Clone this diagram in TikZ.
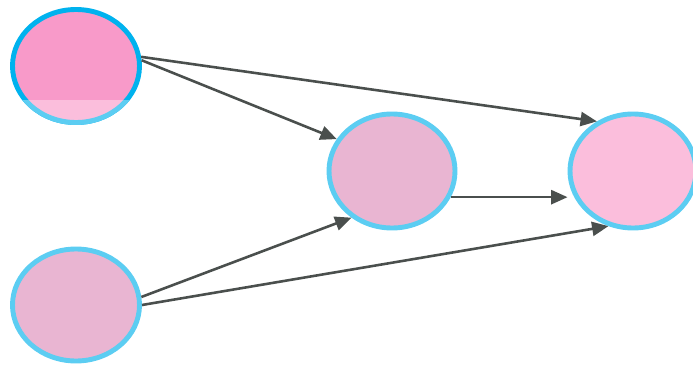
\documentclass[tikz,border=0pt]{standalone}
\usepackage{tikz}
\usetikzlibrary{shapes.geometric,arrows.meta,calc}
\usepackage{xcolor}

\definecolor{rosy}{HTML}{F89AC9}
\definecolor{rosylight}{HTML}{FBBEDC}
\definecolor{mauve}{HTML}{E9B5D2}
\definecolor{skyblue}{HTML}{00B2EE}
\definecolor{skylight}{HTML}{5CCDF2}
\definecolor{arrowgray}{HTML}{4A4F4D}

\begin{document}
\begin{tikzpicture}[x=0.03cm, y=-0.03cm, >={Triangle[length=14pt,width=12pt]},
    bubble/.style={draw=skylight, ellipse, inner sep=0pt, line width=4.2pt},
    link/.style={->, arrowgray, line width=2.2pt}]
    \clip (0,0) rectangle (693,365);

    % Nodes
    \node[bubble, draw=skyblue, fill=rosy, minimum width=3.81cm, minimum height=3.39cm] (src) at (76,66) {};
    \node[bubble, fill=mauve, minimum width=3.78cm, minimum height=3.42cm] (mid) at (392,171) {};
    \node[bubble, fill=rosylight, minimum width=3.78cm, minimum height=3.42cm] (dst) at (633,171) {};
    \node[bubble, fill=mauve, minimum width=3.81cm, minimum height=3.36cm] (low) at (76,305) {};

    % lighter lower band of the top bubble
    \begin{scope}
        \clip (0,100) rectangle (160,130);
        \draw[skylight, fill=rosylight, line width=4.2pt] (src.center) ellipse [x radius=1.905cm, y radius=1.695cm];
    \end{scope}

    % Arrows
    \draw[link] (src.8) -- (dst.126);
    \draw[link] (src.5) -- (mid.150);
    \draw[link] (mid.-24) -- (mid.-24 -| dst.west);
    \draw[link] (low.7) -- (mid.-131);
    \draw[link] (low.0) -- (dst.-114);
\end{tikzpicture}
\end{document}
